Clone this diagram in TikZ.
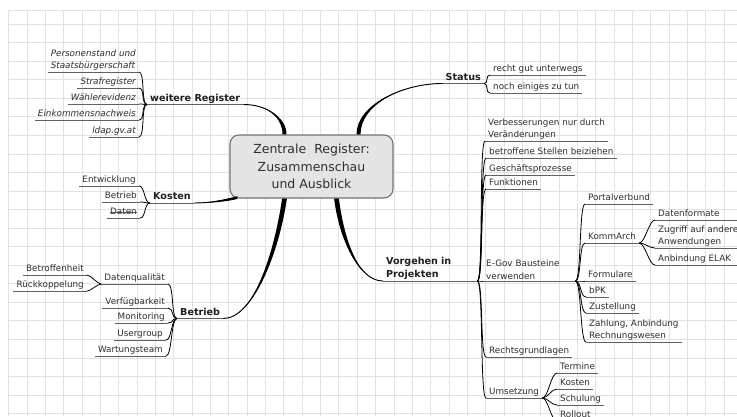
\documentclass[tikz,border=0pt]{standalone}
\usepackage{fontspec}
\setmainfont{DejaVu Sans}[ItalicFont={DejaVu Sans Oblique},BoldFont={DejaVu Sans Bold}]
\definecolor{gridgray}{HTML}{E2E2E2}
\definecolor{boxgray}{HTML}{E4E4E4}
\definecolor{inkgray}{HTML}{2E2E2E}

\begin{document}
\begin{tikzpicture}[x=1pt,y=-1pt]
                      \tikzstyle{leaf}=[font=\fontsize{8.8}{12.5}\selectfont,text=inkgray,inner xsep=3pt,inner ysep=1.2pt,text depth=1.8pt]
                      \tikzstyle{leafit}=[leaf,font=\fontsize{8.8}{12.5}\selectfont\itshape]
                      \tikzstyle{twoline}=[text depth=,align=left]
                      \tikzstyle{topic}=[font=\bfseries\fontsize{9.6}{13.5}\selectfont,text=black!88,inner xsep=3pt,inner ysep=1.2pt,text depth=2pt]
                      \tikzstyle{hub}=[draw=black!55,line width=1.1pt,fill=boxgray,rounded corners=9pt,minimum width=163pt,minimum height=63pt,align=center,font=\fontsize{12.5}{17.5}\selectfont,text=black!82]
                      \tikzstyle{uline}=[draw=black!62,line width=0.9pt]
                      \tikzstyle{link}=[draw=black,line width=0.8pt]
                      \tikzstyle{branch}=[fill=black]
                      \tikzstyle{branchline}=[draw=black,line width=0.9pt]
                      \tikzstyle{gridline}=[draw=gridgray,line width=0.7pt]
                      \useasboundingbox (0,0) rectangle (737,416);
                      \fill[white] (0,0) rectangle (737,416);
                      \foreach \i in {0,...,39} \draw[gridline] (8.5+\i*18.35,10) -- (8.5+\i*18.35,416);
                      \foreach \j in {0,...,21} \draw[gridline] (8,24+\j*18.55) -- (737,24+\j*18.55);
                      \draw[gridline] (8,10.5) -- (737,10.5);
                      \node[hub] (zr) at (311.5,166.5) {Zentrale~~Register:\\Zusammenschau\\und Ausblick};
                      \node[topic, anchor=south west] (wr) at (147,104.5) {weitere Register};
                      \node[topic, anchor=south west] (ko) at (150,203) {Kosten};
                      \node[topic, anchor=south west] (be) at (177,318.5) {Betrieb};
                      \node[topic, anchor=south east] (st) at (484,83.5) {Status};
                      \node[topic, twoline, anchor=south west, text width=88pt] (vo) at (383,281) {Vorgehen in\\Projekten};
                      \node[leafit, anchor=south east, align=left] (ps) at (139,72) {Personenstand und\\Staatsbürgerschaft};
                      \node[leafit, anchor=south east] (sr) at (139,88) {Strafregister};
                      \node[leafit, anchor=south east] (we) at (139,104) {Wählerevidenz};
                      \node[leafit, anchor=south east] (ek) at (139,120) {Einkommensnachweis};
                      \node[leafit, anchor=south east] (ld) at (139,137) {ldap.gv.at};
                      \node[leaf, anchor=south east] (en) at (139,186) {Entwicklung};
                      \node[leaf, anchor=south east] (bt) at (140,202) {Betrieb};
                      \node[leaf, anchor=south east] (da) at (140,218) {Daten};
                      \node[leaf, anchor=south east] (dq) at (168,284) {Datenqualität};
                      \node[leaf, anchor=south east] (vf) at (168,308) {Verfügbarkeit};
                      \node[leaf, anchor=south east] (mo) at (168,323) {Monitoring};
                      \node[leaf, anchor=south east] (ug) at (166,340) {Usergroup};
                      \node[leaf, anchor=south east] (wt) at (166,356) {Wartungsteam};
                      \node[leaf, anchor=south east] (bo) at (87,275) {Betroffenheit};
                      \node[leaf, anchor=south east] (rk) at (87,291) {Rückkoppelung};
                      \node[leaf, anchor=south west] (rg) at (490,75) {recht gut unterwegs};
                      \node[leaf, anchor=south west] (ne) at (490,93) {noch einiges zu tun};
                      \node[leaf, anchor=south west, align=left] (vb) at (485,141) {Verbesserungen nur durch\\Veränderungen};
                      \node[leaf, anchor=south west] (bs) at (486,158) {betroffene Stellen beiziehen};
                      \node[leaf, anchor=south west] (gp) at (486,175) {Geschäftsprozesse};
                      \node[leaf, anchor=south west] (fk) at (486,189) {Funktionen};
                      \node[leaf, twoline, anchor=south west, text width=86pt] (eg) at (483,281) {E-Gov Bausteine\\verwenden};
                      \node[leaf, anchor=south west] (rl) at (486,357) {Rechtsgrundlagen};
                      \node[leaf, anchor=south west] (um) at (486,398) {Umsetzung};
                      \node[leaf, anchor=south west] (pv) at (585,204) {Portalverbund};
                      \node[leaf, anchor=south west] (ka) at (585,243) {KommArch};
                      \node[leaf, anchor=south west] (fo) at (585,281) {Formulare};
                      \node[leaf, anchor=south west] (bp) at (586,297) {bPK};
                      \node[leaf, anchor=south west] (zu) at (586,313) {Zustellung};
                      \node[leaf, anchor=south west, align=left] (zw) at (586,342) {Zahlung, Anbindung\\Rechnungswesen};
                      \node[leaf, anchor=south west, text width=86pt, align=left] (df) at (655,220) {Datenformate};
                      \node[leaf, twoline, anchor=south west, text width=86pt] (za) at (655,248) {Zugriff auf andere\\Anwendungen};
                      \node[leaf, anchor=south west, text width=86pt, align=left] (ae) at (655,265) {Anbindung ELAK};
                      \node[leaf, anchor=south west] (te) at (557,373) {Termine};
                      \node[leaf, anchor=south west] (ks) at (557,389) {Kosten};
                      \node[leaf, anchor=south west] (sc) at (557,405) {Schulung};
                      \node[leaf, anchor=south west] (ro) at (557,421) {Rollout};
                      \foreach \n in {wr,ko,be,st,vo,ps,sr,we,ek,ld,en,bt,da,dq,vf,mo,ug,wt,bo,rk,rg,ne,vb,bs,gp,fk,eg,rl,um,pv,ka,fo,bp,zu,zw,df,za,ae,te,ks,sc,ro} \draw[uline] (\n.south west) -- (\n.south east);
                      \draw[black!70,line width=0.6pt] ([xshift=3pt,yshift=5.3pt]da.south west) -- ([xshift=-3pt,yshift=5.3pt]da.south east);
                      \foreach \c in {ps,sr,we,ek,ld} \draw[link] (wr.south west) to[out=180,in=0,distance=6pt] (\c.south east);
                      \foreach \c in {en,bt,da} \draw[link] (ko.south west) to[out=180,in=0,distance=6pt] (\c.south east);
                      \foreach \c in {dq,vf,mo,ug,wt} \draw[link] (be.south west) to[out=180,in=0,distance=6pt] (\c.south east);
                      \foreach \c in {bo,rk} \draw[link] (dq.south west) to[out=180,in=0,distance=4pt] (\c.south east);
                      \foreach \c in {rg,ne} \draw[link] (st.south east) to[out=0,in=180,distance=5pt] (\c.south west);
                      \foreach \c in {vb,bs,gp,fk,eg,rl,um} \draw[link] (vo.south east) to[out=0,in=180,distance=6pt] (\c.south west);
                      \foreach \c in {pv,ka,fo,bp,zu,zw} \draw[link] (eg.south east) to[out=0,in=180,distance=6pt] (\c.south west);
                      \foreach \c in {df,za,ae} \draw[link] (ka.south east) to[out=0,in=180,distance=6pt] (\c.south west);
                      \foreach \c in {te,ks,sc,ro} \draw[link] (um.south east) to[out=0,in=180,distance=6pt] (\c.south west);
                      \coordinate (w0) at ([xshift=-27pt]zr.north);
                      \coordinate (s0) at ([xshift=47pt]zr.north);
                      \coordinate (k0) at ([xshift=8pt,yshift=1pt]zr.south west);
                      \coordinate (b0) at ([xshift=-27pt]zr.south);
                      \coordinate (v0) at ([xshift=25pt]zr.south);
                      \fill[branch] ([xshift=-2pt]w0) .. controls +(0,-16) and +(25,0) .. (wr.south east) .. controls +(25,0) and +(0,-16) .. ([xshift=2pt]w0) -- cycle;
                      \draw[branchline] (w0) .. controls +(0,-16) and +(25,0) .. (wr.south east);
                      \fill[branch] ([xshift=-2pt]s0) .. controls +(0,-30) and +(-40,0) .. (st.south west) .. controls +(-40,0) and +(0,-30) .. ([xshift=2pt]s0) -- cycle;
                      \draw[branchline] (s0) .. controls +(0,-30) and +(-40,0) .. (st.south west);
                      \fill[branch] ([yshift=1.4pt]k0) .. controls +(-12,3) and +(15,0) .. (ko.south east) .. controls +(15,0) and +(-12,3) .. ([yshift=-1.4pt]k0) -- cycle;
                      \draw[branchline] (k0) .. controls +(-12,3) and +(15,0) .. (ko.south east);
                      \fill[branch] ([xshift=-2.4pt]b0) .. controls +(-8,55) and +(30,0) .. (be.south east) .. controls +(30,0) and +(-8,55) .. ([xshift=2.4pt]b0) -- cycle;
                      \draw[branchline] (b0) .. controls +(-8,55) and +(30,0) .. (be.south east);
                      \fill[branch] ([xshift=-2.4pt]v0) .. controls +(5,40) and +(-25,0) .. (vo.south west) .. controls +(-25,0) and +(5,40) .. ([xshift=2.4pt]v0) -- cycle;
                      \draw[branchline] (v0) .. controls +(5,40) and +(-25,0) .. (vo.south west);
                  \end{tikzpicture}
\end{document}
